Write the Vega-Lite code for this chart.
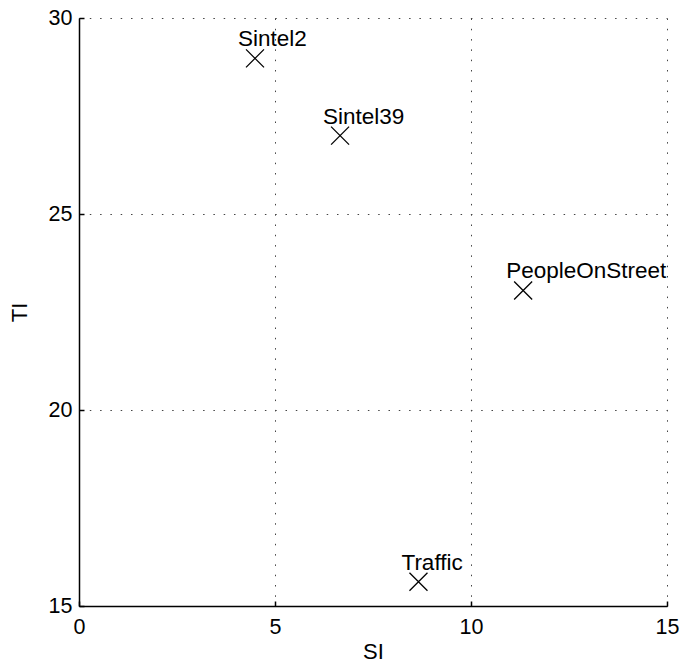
{
  "$schema": "https://vega.github.io/schema/vega-lite/v6.json",
  "width": 588,
  "height": 588,
  "autosize": {"type": "none"},
  "padding": {"left": 79, "top": 18, "right": 16, "bottom": 63},
  "background": "white",
  "config": {
    "view": {"stroke": null},
    "font": "Liberation Sans",
    "axis": {
      "labelFont": "Liberation Sans",
      "titleFont": "Liberation Sans",
      "labelFontSize": 21.5,
      "titleFontSize": 22,
      "titleFontWeight": "normal",
      "labelColor": "#000",
      "titleColor": "#000",
      "domainColor": "#000",
      "domainWidth": 1.5,
      "tickColor": "#000",
      "tickWidth": 1.5,
      "tickSize": -5,
      "gridColor": "#444",
      "gridWidth": 1,
      "gridDash": [1.5, 8.8]
    }
  },
  "data": {
    "values": [
      {"SI": 4.49, "TI": 28.97, "name": "Sintel2"},
      {"SI": 6.66, "TI": 27.0, "name": "Sintel39"},
      {"SI": 11.33, "TI": 23.05, "name": "PeopleOnStreet"},
      {"SI": 8.66, "TI": 15.62, "name": "Traffic"}
    ]
  },
  "encoding": {
    "x": {
      "field": "SI", "type": "quantitative",
      "scale": {"domain": [0, 15], "nice": false, "zero": false},
      "axis": {"values": [0, 5, 10, 15], "title": "SI", "labelPadding": 15, "titlePadding": 4, "labelFlush": false}
    },
    "y": {
      "field": "TI", "type": "quantitative",
      "scale": {"domain": [15, 30], "nice": false, "zero": false},
      "axis": {"values": [15, 20, 25, 30], "title": "TI", "labelPadding": 12, "titlePadding": 17, "labelFlush": false}
    }
  },
  "layer": [
    {
      "mark": {
        "type": "point",
        "shape": "M-1,-1L1,1M-1,1L1,-1",
        "size": 324,
        "filled": false,
        "stroke": "#000",
        "strokeWidth": 1.3,
        "opacity": 1
      }
    },
    {
      "mark": {
        "type": "text",
        "align": "left",
        "baseline": "alphabetic",
        "dx": -17,
        "dy": -12,
        "fontSize": 22.5,
        "font": "Liberation Sans",
        "color": "#000"
      },
      "encoding": {"text": {"field": "name"}}
    }
  ]
}
